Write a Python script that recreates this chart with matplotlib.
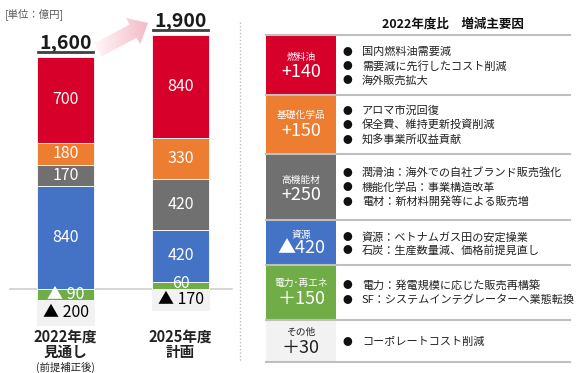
import numpy as np
import matplotlib
matplotlib.use("Agg")
import matplotlib.pyplot as plt
import matplotlib.transforms as mtransforms
from matplotlib.patches import FancyArrow, Rectangle
from matplotlib.lines import Line2D
from matplotlib.colors import LinearSegmentedColormap

plt.rcParams['font.family'] = ['Noto Sans CJK JP', 'DejaVu Sans']

# ---------------- data ----------------
categories = ['2022年度\n見通し', '2025年度\n計画']
category_notes = ['(前提補正後)', '']
totals = [1600, 1900]
segment_names = ['電力・再エネ', '資源', '高機能材', '基礎化学品', '燃料油', 'その他']
seg_green = [-90, 60]
seg_blue = [840, 420]
seg_gray = [170, 420]
seg_orange = [180, 330]
seg_red = [700, 840]
seg_other = [-200, -170]

unit_label = '[単位：億円]'
table_title = '2022年度比　増減主要因'
factor_names = ['燃料油', '基礎化学品', '高機能材', '資源', '電力･再エネ', 'その他']
factor_deltas = ['+140', '+150', '+250', '▲420', '＋150', '＋30']
factor_bullets = [
    ['国内燃料油需要減', '需要減に先行したコスト削減', '海外販売拡大'],
    ['アロマ市況回復', '保全費、維持更新投資削減', '知多事業所収益貢献'],
    ['潤滑油：海外での自社ブランド販売強化', '機能化学品：事業構造改革', '電材：新材料開発等による販売増'],
    ['資源：ベトナムガス田の安定操業', '石炭：生産数量減、価格前提見直し'],
    ['電力：発電規模に応じた販売再構築', 'SF：システムインテグレーターへ業態転換'],
    ['コーポレートコスト削減'],
]

# ---------------- styles ----------------
C_RED = '#D7002A'
C_ORANGE = '#ED7D31'
C_GRAY = '#707070'
C_BLUE = '#4472C4'
C_GREEN = '#70AD47'
C_LIGHT = '#F2F2F2'
seg_values = [seg_green, seg_blue, seg_gray, seg_orange, seg_red, seg_other]
seg_colors = [C_GREEN, C_BLUE, C_GRAY, C_ORANGE, C_RED, C_LIGHT]
seg_text_colors = ['white', 'white', 'white', 'white', 'white', 'black']
factor_colors = [C_RED, C_ORANGE, C_GRAY, C_BLUE, C_GREEN, C_LIGHT]
factor_text_colors = ['white'] * 5 + ['#222222']

W, H = 581, 373
fig = plt.figure(figsize=(W / 100, H / 100), dpi=100)

# bar axes
ax = fig.add_axes([0, (H - 340) / H, 240 / W, 320 / H])
ax.set_xlim(-0.5696, 1.517)
ax.set_ylim(-415.5, 2191.4)
ax.axis('off')

# overlay axes in pixel coordinates
ov = fig.add_axes([0, 0, 1, 1], zorder=5)
ov.patch.set_alpha(0)
ov.axis('off')

ax.axhline(0, xmin=10 / 240, xmax=232 / 240, color='#D0D0D0', lw=1.2, zorder=0.5)

x = np.arange(len(categories))
bw = 0.496
for i in x:
    pos_b, neg_b = 0.0, 0.0
    for vals, col, tcol in zip(seg_values, seg_colors, seg_text_colors):
        v = vals[i]
        if v >= 0:
            bottom = pos_b
            pos_b += v
        else:
            bottom = neg_b
            neg_b += v
        ax.bar(i, v, bottom=bottom, width=bw, color=col,
               edgecolor='white' if col != C_LIGHT else C_LIGHT, linewidth=0.6, zorder=2)
        label = f'{v}' if v >= 0 else f'▲ {-v}'
        if 0 <= v < 100:
            ax.text(i, bottom + 12, label, ha='center', va='baseline', color=tcol,
                    fontsize=11.5, zorder=3)
        else:
            ax.text(i, bottom + v / 2, label, ha='center', va='center', color=tcol,
                    fontsize=11.5, zorder=3)

# arrow with gradient (drawn in pixel space)
ov.set_xlim(0, W)
ov.set_ylim(H, 0)
arrow = FancyArrow(98, 50, 50, -27, width=15, head_width=30, head_length=17,
                   length_includes_head=True, facecolor='none', edgecolor='none')
ov.add_patch(arrow)
grad = np.linspace(0, 1, 100).reshape(1, -1)
cmap = LinearSegmentedColormap.from_list('pk', ['#FFFFFF', '#F3B3C0'])
im = ov.imshow(grad, extent=(88, 155, 68, 8), cmap=cmap, aspect='auto', zorder=1)
im.set_clip_path(arrow)
ov.set_xlim(0, W)
ov.set_ylim(H, 0)

# totals with underline
for i, t in enumerate(totals):
    top = sum(v[i] for v in seg_values if v[i] > 0)
    ax.annotate(f'{t:,}', xy=(i, top), xytext=(0, 10), textcoords='offset points',
                ha='center', va='center', fontsize=14, fontweight='bold', color='#1A1A1A',
                zorder=4)
    disp = ax.transData.transform((i, top))
    px_x, px_y = disp[0], H - disp[1]
    ov.add_line(Line2D([px_x - 28, px_x + 27], [px_y - 5, px_y - 5], color='#404040', lw=2))

# category labels
blend = mtransforms.blended_transform_factory(ax.transData, ov.transData)
for i, (cat, note) in enumerate(zip(categories, category_notes)):
    l1, l2 = cat.split('\n')
    ax.text(i, 337, l1, transform=blend, ha='center', va='center', fontsize=10.5,
            fontweight='bold', color='#222222')
    ax.text(i, 352, l2, transform=blend, ha='center', va='center', fontsize=10.5,
            fontweight='bold', color='#222222')
    if note:
        ax.text(i, 367, note, transform=blend, ha='center', va='center', fontsize=7.5,
                color='#222222')

# unit label
ov.text(5, 14, unit_label, ha='left', va='center', fontsize=7.5, color='#595959')

# separator
ov.add_line(Line2D([240, 240], [22, 362], color='#C0C0C0', lw=1, linestyle=(0, (1, 1.5))))

# ---------------- table ----------------
ov.text(453, 24, table_title, ha='center', va='center', fontsize=9, fontweight='bold', color='#111111')
row_bounds = [(35, 95), (95, 154), (154, 220), (220, 265), (265, 320), (320, 362)]
name_y = [57, 115, 180, 235, 283, 332]
val_y = [72, 131, 195, 248, 299, 348]
bullet_y = [[52, 66, 80], [111, 125, 140], [173, 187, 202], [237, 250], [285, 300], [342]]
for k, (y0, y1) in enumerate(row_bounds):
    ov.add_patch(Rectangle((266, y0), 70, y1 - y0, facecolor=factor_colors[k], edgecolor='none', zorder=1))
    ov.text(301, name_y[k], factor_names[k], ha='center', va='center', fontsize=7,
            color=factor_text_colors[k], zorder=3)
    ov.text(301, val_y[k], factor_deltas[k], ha='center', va='center', fontsize=13,
            color=factor_text_colors[k], zorder=3)
    for txt, by in zip(factor_bullets[k], bullet_y[k]):
        ov.text(347, by, '●', ha='center', va='center', fontsize=7, color='#111111')
        ov.text(362, by, txt, ha='left', va='center', fontsize=8, color='#222222')
for yb in [35] + [b[1] for b in row_bounds]:
    ov.add_line(Line2D([266, 570], [yb, yb], color='#BFBFBF', lw=1.5, zorder=2))

fig.savefig('out.png', dpi=100)
